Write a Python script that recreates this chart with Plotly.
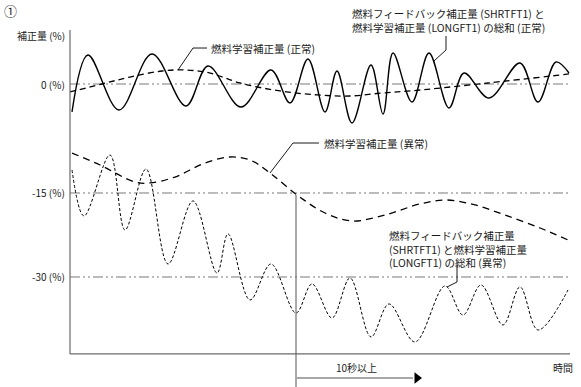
import plotly.graph_objects as go

# ---- data (time units, correction %) ----
t_norm_total = [0.4, 3.6, 9.8, 16.4, 23.2, 27.6, 34.2, 40.2, 44.0, 47.6, 51.0, 53.4, 56.4, 60.2,
                62.6, 64.6, 68.4, 71.8, 75.8, 78.8, 83.8, 90.0, 93.6, 97.2, 99.8]
y_norm_total = [-3.85, 3.99, -3.58, 4.13, -3.03, 2.48, -3.17, 1.93, -2.61, 3.44, -3.85, 1.79, -5.37, 2.61,
                -4.13, 4.27, -2.48, 4.27, -3.30, 1.51, -1.93, 2.89, -2.48, 3.03, 1.51]

t_norm_learn = [0.0, 6.4, 12.0, 18.4, 23.0, 28.0, 34.0, 42.0, 49.6, 56.0, 62.4, 68.0, 83.6, 99.8]
y_norm_learn = [-1.10, 0.0, 0.96, 1.79, 1.93, 1.51, 0.14, -0.96, -1.51, -1.65, -1.24, -0.96, 0.14, 1.38]

t_abn_learn = [0.4, 6.0, 13.0, 16.0, 21.0, 27.0, 32.0, 36.0, 40.0, 45.4, 51.0, 56.4, 63.0, 70.0,
               75.4, 81.0, 87.0, 94.0, 99.6]
y_abn_learn = [-9.50, -11.15, -13.49, -13.62, -12.80, -10.87, -10.05, -10.46, -12.25, -15.27, -17.75,
               -18.85, -18.03, -16.51, -15.96, -16.65, -18.03, -19.82, -21.47]

t_abn_total = [0.4, 2.8, 8.0, 11.0, 15.2, 19.6, 24.6, 29.4, 31.6, 36.0, 40.2, 45.2, 48.4, 52.4, 56.0,
               60.2, 63.8, 69.0, 75.0, 78.6, 82.2, 86.6, 90.0, 93.6, 99.6]
y_abn_total = [-11.83, -18.16, -9.77, -20.09, -11.70, -24.77, -16.10, -26.01, -20.64, -29.72, -24.77,
               -31.51, -27.52, -32.20, -26.70, -34.81, -30.27, -35.50, -27.80, -31.79, -27.66, -33.16,
               -27.93, -33.85, -28.35]

ref_levels = [0.0, -15.0, -26.56]
ref_labels = ["0 (%)", "-15 (%)", "-30 (%)"]
y_title = "補正量 (%)"
x_title = "時間"
duration_label = "10秒以上"
t_start_mark = 45.2
t_arrow_end = 69.4
t_axis_end = 100.0
y_axis_top = 7.43
y_axis_bottom = -37.15

FONT = "Noto Sans CJK JP, Noto Sans, sans-serif"
X_RANGE = [-14.0, 102.2]
Y_RANGE = [-41.70, 11.56]

fig = go.Figure()

grid_dash = "10px,3px,2px,3px,2px,3px"
for lv in ref_levels:
    fig.add_trace(go.Scatter(x=[0, 99.6], y=[lv, lv], mode="lines",
                             line=dict(color="#7a7a7a", width=1, dash=grid_dash)))

fig.add_trace(go.Scatter(x=t_norm_learn, y=y_norm_learn, mode="lines",
                         line=dict(color="black", width=1.3, dash="6px,4px", shape="spline")))
fig.add_trace(go.Scatter(x=t_abn_learn, y=y_abn_learn, mode="lines",
                         line=dict(color="black", width=1.3, dash="7px,5px", shape="spline")))
fig.add_trace(go.Scatter(x=t_norm_total, y=y_norm_total, mode="lines",
                         line=dict(color="black", width=1.4, shape="spline")))
fig.add_trace(go.Scatter(x=t_abn_total, y=y_abn_total, mode="lines",
                         line=dict(color="black", width=1.0, dash="3px,2px", shape="spline")))

# leader lines
leaders = [
    ([21.6, 24.6, 27.4], [1.93, 4.95, 4.95]),
    ([75.2, 75.2, 72.8], [6.61, 4.68, 3.17]),
    ([40.0, 44.6, 49.8], [-12.25, -8.12, -8.12]),
    ([77.4, 77.4, 75.4], [-24.91, -27.25, -27.94]),
]
for lx, ly in leaders:
    fig.add_trace(go.Scatter(x=lx, y=ly, mode="lines", line=dict(color="black", width=0.9)))

# axes lines
fig.add_shape(type="line", x0=0, x1=0, y0=y_axis_bottom, y1=y_axis_top,
              line=dict(color="#6a6a6a", width=1.2))
fig.add_shape(type="line", x0=0, x1=t_axis_end, y0=y_axis_bottom, y1=y_axis_bottom,
              line=dict(color="#6a6a6a", width=1.2))
# 10 s marker line
fig.add_shape(type="line", x0=t_start_mark, x1=t_start_mark, y0=-15.27, y1=Y_RANGE[0],
              line=dict(color="#555555", width=1))
# arrow
fig.add_shape(type="line", x0=t_start_mark, x1=t_arrow_end - 0.8, y0=-40.46, y1=-40.46,
              line=dict(color="#a8a8a8", width=2.2))
fig.add_trace(go.Scatter(x=[t_arrow_end], y=[-40.46], mode="markers",
                         marker=dict(symbol="triangle-right", size=10, color="black")))

def txt(x, y, s, anchor="left", size=10.5, align="left"):
    fig.add_annotation(x=x, y=y, text=s, showarrow=False, xanchor=anchor, yanchor="middle",
                       align=align, font=dict(family=FONT, size=size, color="#1a1a1a"))

for lv, lab in zip(ref_levels, ref_labels):
    txt(-0.6, lv, lab, "right", 10)
txt(-0.6, 6.74, y_title, "right", 10)
txt(-11.9, 10.1, "①", "center", 13)

txt(27.8, 4.82, "燃料学習補正量 (正常)")
txt(56.0, 8.70, "燃料フィードバック補正量 (SHRTFT1) と<br>燃料学習補正量 (LONGFT1) の総和 (正常)")
txt(50.4, -8.12, "燃料学習補正量 (異常)")
txt(63.4, -22.65, "燃料フィードバック補正量<br>(SHRTFT1) と燃料学習補正量<br>(LONGFT1) の総和 (異常)")
txt(57.2, -39.08, duration_label, "center", 10)
txt(101.0, -39.08, x_title, "right", 10)

fig.update_layout(
    width=581, height=387,
    margin=dict(l=0, r=0, t=0, b=0),
    paper_bgcolor="white", plot_bgcolor="white",
    showlegend=False, hovermode=False,
    xaxis=dict(range=X_RANGE, visible=False, fixedrange=True),
    yaxis=dict(range=Y_RANGE, visible=False, fixedrange=True),
)

fig.write_html("out.html", post_script="document.body.style.margin='0';",
               config={"displayModeBar": False})
